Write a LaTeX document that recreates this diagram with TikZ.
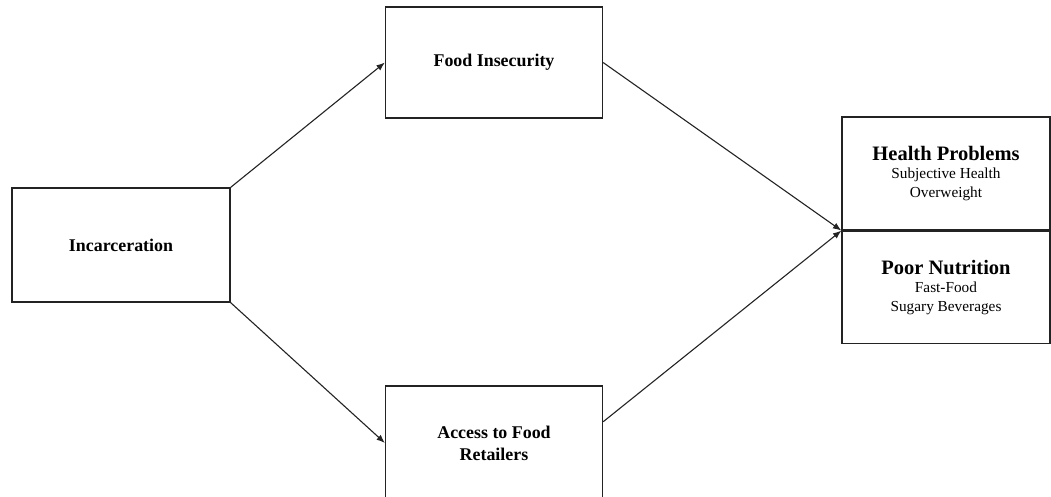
\documentclass[tikz,border=0pt]{standalone}
\usepackage{fontspec}
\setmainfont{Liberation Serif}
\usetikzlibrary{arrows.meta, positioning}
\definecolor{myline}{RGB}{35,35,35}

\begin{document}
\begin{tikzpicture}[x=1pt, y=-1pt,
    box/.style={draw=myline, line width=1.2pt, inner sep=0pt, align=center},
    arr/.style={draw=myline, line width=1.1pt, -{Latex[length=8.5pt, width=6.5pt]}}]
  \useasboundingbox (0,0) rectangle (1051,497);
  \node[box, minimum width=218pt, minimum height=114pt,
        font=\fontsize{17.9}{22}\selectfont\bfseries] (incarc) at (121,245) {Incarceration};
  \node[box, minimum width=217pt, minimum height=111pt,
        font=\fontsize{17.9}{22}\selectfont\bfseries] (insec) at (494,62.5) {Food Insecurity};
  \node[box, minimum width=217pt, minimum height=114pt,
        font=\fontsize{17.9}{22}\selectfont\bfseries] (access) at (494,443) {Access to Food\\Retailers};
  \node[box, minimum width=208pt, minimum height=113pt,
        font=\fontsize{15.3}{18.5}\selectfont] (health) at (946,173.5)
        {{\fontsize{20.5}{20.5}\selectfont\bfseries Health Problems}\\Subjective Health\\Overweight};
  \node[box, minimum width=208pt, minimum height=112pt, below=0pt of health,
        font=\fontsize{15.3}{18.5}\selectfont] (nutri)
        {{\fontsize{20.5}{20.5}\selectfont\bfseries Poor Nutrition}\\Fast-Food\\Sugary Beverages};
  \draw[arr] (incarc.north east) -- (insec.west);
  \draw[arr] (incarc.south east) -- (access.west);
  \draw[arr] (insec.east) -- (health.south west);
  \draw[arr] (access.11) -- (health.south west);
\end{tikzpicture}
\end{document}
